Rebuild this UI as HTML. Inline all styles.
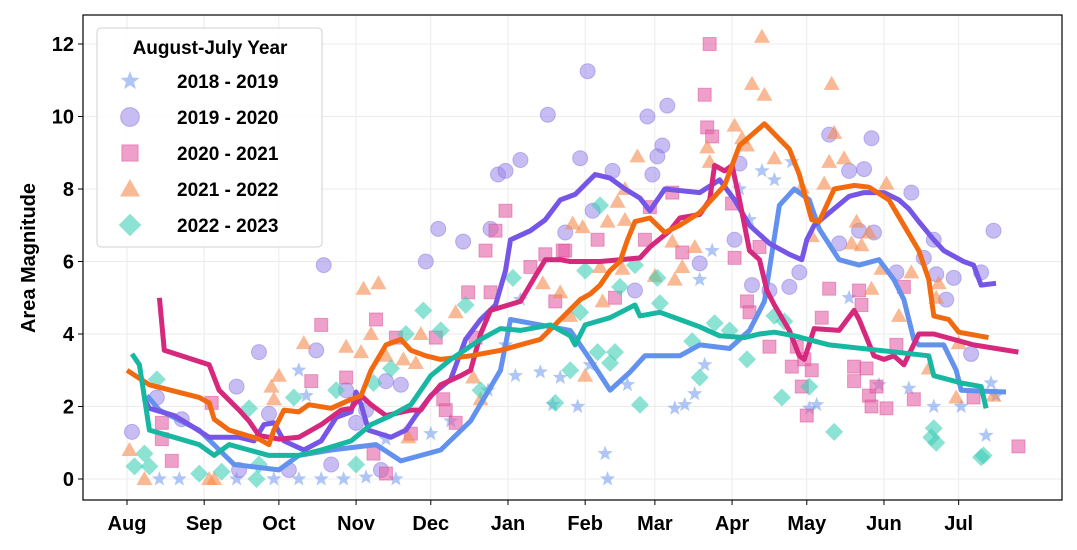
<!DOCTYPE html>
<html><head><meta charset="utf-8"><style>
body{margin:0;background:#fff;}
svg{display:block;font-family:"Liberation Sans",Arial,sans-serif;}
</style></head><body>
<svg id="chart" width="1077" height="550"></svg>
<script>
const monthLabels=["Aug","Sep","Oct","Nov","Dec","Jan","Feb","Mar","Apr","May","Jun","Jul"];
const monthStartDays=[0,31,61,92,122,153,184,212,243,273,304,334];
const yTicks=[0,2,4,6,8,10,12];
const seriesNames=["2018 - 2019","2019 - 2020","2020 - 2021","2021 - 2022","2022 - 2023"];

const scatter2018=[[13,0],[44,0],[21,0],[59,0],[69,0],[78,0],[87,0],[96,0.05],[108,0],[69,3.0],[72,2.3],[104,1.1],[122,1.25],[130,1.6],[145,2.45],[156,2.85],[166,2.95],[174,2.8],[186,3.15],[171,2.05],[192,0.7],[193,0],[181,2.0],[201,2.6],[220,1.95],[224,2.05],[228,2.35],[230,5.5],[235,6.3],[246,8.0],[255,8.5],[267,8.75],[232,3.15],[274,1.95],[277,2.05],[290,5.0],[302,2.6],[314,2.5],[324,2.0],[335,2.0],[347,2.65],[349,2.3],[345,1.2],[260,8.25],[250,7.15],[158,4.95],[152,3.7]];
const scatter2019=[[2,1.3],[12,2.25],[22,1.65],[44,2.55],[53,3.5],[57,1.8],[76,3.55],[79,5.9],[88,2.45],[92,1.55],[96,1.9],[104,2.7],[110,2.6],[120,6.0],[125,6.9],[135,6.55],[146,6.9],[149,8.4],[152,8.5],[158,8.8],[169,10.05],[185,11.25],[182,8.85],[209,10.0],[217,10.3],[215,9.2],[213,8.9],[195,8.5],[211,8.4],[246,8.7],[282,9.5],[299,9.4],[290,8.5],[296,8.55],[315,7.9],[348,6.85],[343,5.7],[332,5.55],[325,5.65],[324,6.6],[320,6.1],[309,5.7],[300,6.8],[294,6.85],[286,6.5],[270,5.7],[266,5.3],[258,5.2],[251,5.35],[244,6.6],[230,5.95],[204,5.2],[187,7.4],[176,6.8],[339,3.45],[329,4.95],[45,0.25],[65,0.25],[82,0.4],[102,0.25]];
const scatter2020=[[14,1.1],[18,0.5],[14,1.55],[34,2.1],[78,4.25],[100,4.4],[74,2.7],[88,2.8],[108,3.9],[124,3.9],[128,1.9],[132,1.55],[127,2.2],[137,5.15],[146,5.15],[148,6.85],[152,7.4],[144,6.3],[162,5.85],[168,6.2],[176,6.3],[172,4.9],[140,3.9],[114,1.25],[104,0.15],[99,0.7],[234,12.0],[232,10.6],[233,9.7],[235,9.45],[243,7.6],[219,7.9],[210,7.5],[189,6.6],[175,6.3],[208,6.6],[223,6.25],[244,6.1],[196,5.0],[249,4.9],[250,4.6],[254,6.4],[258,3.65],[269,3.65],[267,3.1],[272,3.3],[275,3.0],[271,2.55],[273,1.75],[282,5.25],[279,4.45],[294,5.2],[295,4.8],[292,3.1],[297,3.05],[292,2.7],[298,2.3],[301,2.55],[299,2.0],[305,1.95],[312,5.3],[309,3.7],[316,2.2],[340,2.25],[358,0.9]];
const scatter2021=[[1,0.8],[7,0],[33,0],[35,0],[58,2.55],[59,2.2],[61,2.85],[71,3.75],[95,5.25],[101,5.4],[88,3.65],[94,3.5],[98,4.0],[104,3.4],[111,3.3],[116,3.2],[118,4.0],[132,4.6],[139,2.8],[142,2.2],[167,5.4],[174,5.15],[178,4.5],[179,7.05],[113,1.15],[255,12.2],[251,10.9],[256,10.6],[283,10.9],[284,9.55],[244,9.75],[247,9.4],[249,9.2],[233,9.15],[234,8.75],[205,8.9],[260,8.85],[282,8.75],[288,8.85],[305,8.15],[271,8.05],[280,8.15],[200,8.0],[197,7.65],[183,6.95],[193,7.1],[200,7.15],[219,6.55],[228,6.4],[291,6.5],[295,6.45],[293,7.1],[298,6.8],[275,6.7],[190,5.85],[199,5.8],[212,5.6],[220,5.5],[223,5.85],[303,5.8],[315,5.7],[299,5.25],[326,5.4],[325,5.0],[310,4.5],[334,3.75],[322,3.05],[333,2.25],[348,2.3],[191,4.9],[184,2.85]];
const scatter2022=[[3,0.35],[7,0.7],[9,0.35],[12,2.75],[29,0.15],[38,0.2],[52,0],[49,1.95],[67,2.25],[53,0.4],[84,2.45],[92,0.4],[99,2.65],[106,3.05],[119,4.65],[112,4.0],[126,4.1],[136,4.8],[155,5.55],[178,3.0],[172,2.1],[182,4.6],[142,2.45],[190,7.55],[184,5.75],[204,5.9],[213,5.55],[198,5.3],[214,4.85],[236,4.3],[242,4.1],[227,3.8],[260,4.5],[264,4.35],[249,3.3],[189,3.5],[196,3.5],[194,3.2],[230,2.8],[206,2.05],[263,2.25],[274,2.55],[284,1.3],[324,1.4],[323,1.15],[325,1.0],[344,0.65],[343,0.6]];

const line2018=[[8,2.3],[13,1.9],[29,1.35],[43,0.4],[61,0.25],[69,0.65],[82,0.8],[100,0.95],[110,0.5],[126,0.8],[138,1.6],[150,3.0],[154,4.4],[166,4.25],[178,4.1],[186,3.3],[194,2.45],[202,2.95],[208,3.4],[222,3.4],[230,3.7],[242,3.6],[250,4.1],[256,4.9],[262,7.55],[268,8.0],[274,7.7],[278,6.9],[286,6.05],[294,5.9],[302,6.05],[308,5.5],[312,4.95],[316,3.85],[318,3.7],[328,3.7],[333,3.0],[335,2.45],[353,2.4]];
const line2019=[[7,2.2],[9,1.95],[19,1.75],[25,1.5],[33,1.15],[45,1.15],[51,1.05],[55,1.5],[59,1.55],[63,1.05],[71,0.8],[78,1.05],[84,1.7],[90,1.85],[92,2.4],[94,2.05],[97,1.35],[106,1.15],[112,1.35],[116,1.75],[122,2.3],[130,2.75],[136,3.85],[142,4.4],[148,4.8],[152,5.75],[154,6.6],[162,6.85],[168,7.15],[174,7.7],[180,7.85],[188,8.4],[194,8.3],[200,8.0],[206,7.75],[210,7.4],[216,8.0],[230,7.9],[238,8.25],[244,7.7],[250,7.0],[258,6.5],[266,6.2],[271,6.05],[273,6.6],[276,7.0],[290,7.8],[296,7.9],[304,7.9],[310,7.7],[314,7.45],[318,7.1],[324,6.6],[328,6.3],[336,6.0],[340,5.9],[343,5.35],[349,5.4]];
const line2020=[[13,5.0],[15,3.55],[33,3.15],[37,2.45],[45,1.9],[49,1.6],[53,1.2],[61,1.1],[69,1.15],[78,1.5],[86,1.9],[90,1.95],[94,2.3],[98,2.05],[104,1.75],[114,1.9],[118,1.9],[121,2.2],[126,2.6],[134,2.85],[138,3.0],[142,4.0],[146,4.65],[158,4.9],[164,5.6],[168,6.05],[174,6.05],[178,6.0],[190,6.0],[198,6.05],[206,6.1],[210,6.4],[218,6.85],[222,7.2],[230,7.3],[234,7.7],[236,8.65],[240,8.5],[243,8.65],[246,7.7],[250,6.3],[254,6.05],[257,5.2],[260,4.8],[266,4.1],[270,3.4],[272,3.3],[276,4.15],[286,4.1],[292,4.65],[294,4.4],[300,3.4],[304,3.3],[308,3.4],[312,3.15],[318,4.0],[324,4.0],[340,3.7],[358,3.5]];
const line2021=[[0,3.0],[9,2.6],[29,2.25],[33,2.1],[35,1.65],[41,1.35],[53,1.1],[57,0.95],[59,1.35],[63,1.9],[69,1.85],[73,2.05],[82,1.95],[90,2.2],[94,2.3],[98,3.0],[104,3.7],[110,3.85],[114,3.55],[120,3.4],[126,3.3],[138,3.4],[150,3.55],[166,3.85],[174,4.4],[182,4.95],[186,5.1],[190,5.35],[194,5.75],[198,6.0],[201,6.6],[204,7.1],[210,7.2],[216,6.8],[222,7.0],[230,7.35],[240,8.1],[246,9.2],[256,9.8],[266,9.1],[270,8.4],[275,7.15],[278,7.1],[284,8.0],[292,8.1],[298,8.05],[306,7.7],[312,7.0],[318,6.3],[322,5.5],[324,4.5],[330,4.4],[334,4.05],[346,3.9]];
const line2022=[[2,3.45],[5,3.15],[9,1.35],[19,1.15],[29,0.95],[35,0.65],[41,0.95],[49,0.8],[57,0.65],[69,0.65],[78,0.8],[90,1.05],[98,1.5],[106,1.75],[114,2.05],[122,2.85],[130,3.3],[142,3.85],[150,4.15],[158,4.1],[170,4.25],[178,3.95],[180,3.7],[184,4.25],[194,4.45],[204,4.8],[206,4.5],[214,4.6],[222,4.4],[230,4.2],[238,3.95],[248,3.9],[254,4.0],[260,4.05],[268,3.95],[282,3.7],[302,3.55],[322,3.4],[324,2.85],[335,2.65],[343,2.55],[345,1.95]];

const NS="http://www.w3.org/2000/svg";
const svg=document.getElementById('chart');
const L=83,R=1062,T=15,B=500;
function xs(d){return 127+d*2.49;}
function ys(v){return 479-v*36.25;}
function mk(tag,attrs,parent){const e=document.createElementNS(NS,tag);for(const k in attrs)e.setAttribute(k,attrs[k]);(parent||svg).appendChild(e);return e;}

// grid
const grid=mk('g',{});


monthStartDays.forEach(d=>{mk('line',{x1:xs(d),x2:xs(d),y1:T,y2:B,stroke:'#ebebeb','stroke-width':1},grid);});
yTicks.forEach(v=>{mk('line',{x1:L,x2:R,y1:ys(v),y2:ys(v),stroke:'#ebebeb','stroke-width':1},grid);});

// axes labels
const xa=mk('g',{});


monthLabels.forEach((m,i)=>{
  mk('line',{x1:xs(monthStartDays[i]),x2:xs(monthStartDays[i]),y1:B,y2:B+5,stroke:'#000'},xa);
  const t=mk('text',{x:xs(monthStartDays[i]),y:530,'text-anchor':'middle','font-size':20,'font-weight':'bold'},xa);
  t.textContent=m;
  
  
});
const ya=mk('g',{});


yTicks.forEach(v=>{
  mk('line',{x1:L-5,x2:L,y1:ys(v),y2:ys(v),stroke:'#000'},ya);
  const t=mk('text',{x:74,y:ys(v)+7,'text-anchor':'end','font-size':20,'font-weight':'bold'},ya);
  t.textContent=v;
  
  
});
const yt=mk('text',{x:35,y:258,'text-anchor':'middle','font-size':20,'font-weight':'bold',transform:'rotate(-90 35 258)'});
yt.textContent='Area Magnitude';



// marker drawing
function starPts(cx,cy,r){let p=[];for(let i=0;i<10;i++){const a=-Math.PI/2+i*Math.PI/5;const rr=i%2?r*0.42:r;p.push((cx+rr*Math.cos(a)).toFixed(1)+','+(cy+rr*Math.sin(a)).toFixed(1));}return p.join(' ');}
function marker(kind,cx,cy,parent,scale){
  const s=scale||1;
  if(kind==='star')return mk('polygon',{points:starPts(cx,cy,8*s),fill:'#6f97ee','fill-opacity':0.55},parent);
  if(kind==='circle')return mk('circle',{cx:cx,cy:cy,r:7.5*s,fill:'#9b87ea','fill-opacity':0.55,stroke:'#8a76e0','stroke-opacity':0.5},parent);
  if(kind==='square')return mk('rect',{x:cx-6.5*s,y:cy-6.5*s,width:13*s,height:13*s,fill:'#e461a6','fill-opacity':0.6,stroke:'#d84f98','stroke-opacity':0.5},parent);
  if(kind==='triangle')return mk('polygon',{points:`${cx},${cy-8*s} ${cx-8*s},${cy+6*s} ${cx+8*s},${cy+6*s}`,fill:'#f58b4c','fill-opacity':0.6},parent);
  if(kind==='diamond')return mk('polygon',{points:`${cx},${cy-9*s} ${cx+9*s},${cy} ${cx},${cy+9*s} ${cx-9*s},${cy}`,fill:'#3fcfb6','fill-opacity':0.6},parent);
}
const kinds=['star','circle','square','triangle','diamond'];
const scatters=[scatter2018,scatter2019,scatter2020,scatter2021,scatter2022];
const lines=[line2018,line2019,line2020,line2021,line2022];
const lineColors=['#6391ee','#7656e6','#d6287c','#f26a10','#17b7a2'];

scatters.forEach((arr,i)=>{
  const g=mk('g',{});
  
  
  arr.forEach(p=>{
    const m=marker(kinds[i],xs(p[0]),ys(p[1]),g);
    
    
  });
});
lines.forEach((arr,i)=>{
  const pl=mk('polyline',{points:arr.map(p=>xs(p[0]).toFixed(1)+','+ys(p[1]).toFixed(1)).join(' '),fill:'none',stroke:lineColors[i],'stroke-width':5,'stroke-linejoin':'round','stroke-linecap':'butt'});
  
  
});

// frame
const fr=mk('rect',{x:L,y:T,width:R-L,height:B-T,fill:'none',stroke:'#000','stroke-width':1.2});



// legend
const lg=mk('g',{});


mk('rect',{x:97,y:28,width:225,height:219,rx:4,fill:'#fff','fill-opacity':0.85,stroke:'#d0d0d0'},lg);
const lt=mk('text',{x:210,y:54,'text-anchor':'middle','font-size':19,'font-weight':'bold'},lg);
lt.textContent='August-July Year';


seriesNames.forEach((n,i)=>{
  const cy=81+i*36;
  const e=mk('g',{},lg);
  
  
  marker(kinds[i],130,cy,e,1.25);
  const t=mk('text',{x:177,y:cy+7,'font-size':19,'font-weight':'bold'},e);
  t.textContent=n;
});
</script>
</body></html>
